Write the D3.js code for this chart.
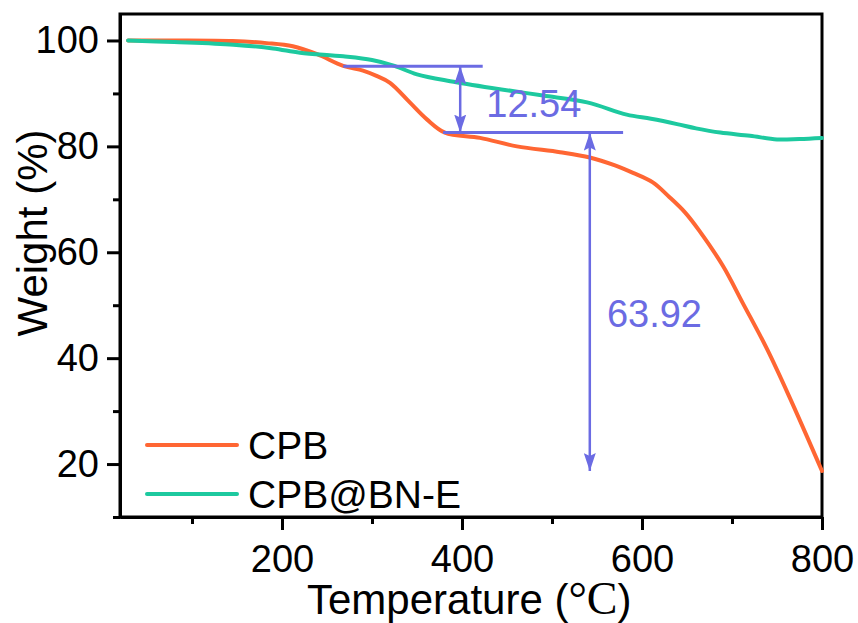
<!DOCTYPE html>
<html>
<head>
<meta charset="utf-8">
<script src="https://cdn.jsdelivr.net/npm/d3@7"></script>
<style>
  body { margin: 0; background: #fff; }
  svg { display: block; font-family: "Liberation Sans", Arial, sans-serif; }
</style>
</head>
<body>
<svg width="858" height="623"></svg>
<script>
// TGA curves, temperature (°C) vs weight (%)
const cpbTemp = [29, 80, 145, 183, 212, 239, 268, 290, 305, 320, 342, 361, 381, 420, 461, 509, 542, 570, 590, 612, 630, 648, 664, 690, 712, 739, 764, 800]
const cpbWeight = [100, 100, 99.9, 99.5, 98.9, 97.4, 95.2, 94.3, 93.3, 92, 88.3, 85.1, 82.6, 81.6, 80, 78.9, 77.9, 76.4, 75, 73.2, 70.5, 67.5, 64, 57.4, 50.4, 41.7, 32.6, 18.7]
const bnTemp = [29, 80, 146, 190, 220, 268, 300, 325, 350, 387, 442, 490, 539, 583, 610, 639, 660, 687, 720, 750, 775, 800]
const bnWeight = [100, 99.7, 99.2, 98.5, 97.7, 97, 96.3, 95.2, 93.6, 92.3, 90.8, 89.6, 88.3, 86, 85.2, 84.2, 83.4, 82.6, 82, 81.3, 81.4, 81.6]
const seriesNames = ['CPB', 'CPB@BN-E']
const seriesColors = ['#FF6633', '#1DC99F']

const xMajor = [200, 400, 600, 800]
const xMinor = [100, 300, 500, 700]
const yMajor = [20, 40, 60, 80, 100]
const yMinor = [10, 30, 50, 70, 90]

// annotation levels (weight %)
const stepTop = 95.14, stepMid = 82.6, stepEnd = 18.68
const annLabels = ['12.54', '63.92']
const annColor = '#6B6BE3'

const svg = d3.select('svg')
const margin = {top: 14, right: 36, bottom: 106, left: 120}
const width = 858 - margin.left - margin.right
const height = 623 - margin.top - margin.bottom

const x = d3.scaleLinear().domain([20, 800]).range([0, width])
const y = d3.scaleLinear().domain([10, 105]).range([height, 0])

const g = svg.append('g').attr('transform', `translate(${margin.left},${margin.top})`)

// frame
g.append('rect').attr('width', width).attr('height', height)
  .attr('fill', 'none').attr('stroke', '#000').attr('stroke-width', 3)

function styleAxis(sel) {
  sel.select('.domain').attr('stroke-width', 3)
  sel.selectAll('.tick line').attr('stroke-width', 3)
  sel.selectAll('.tick text').attr('font-size', 38).attr('fill', '#000')
    .attr('font-family', '"Liberation Sans", Arial, sans-serif')
}

g.append('g').attr('transform', `translate(0,${height})`)
  .call(d3.axisBottom(x).tickValues(xMinor).tickSize(7).tickFormat('').tickSizeOuter(0))
  .call(styleAxis)
g.append('g').attr('transform', `translate(0,${height})`)
  .call(d3.axisBottom(x).tickValues(xMajor).tickSize(13).tickPadding(15).tickSizeOuter(0))
  .call(styleAxis)
g.append('g')
  .call(d3.axisLeft(y).tickValues(yMinor).tickSize(7).tickFormat('').tickSizeOuter(0))
  .call(styleAxis)
g.append('g')
  .call(d3.axisLeft(y).tickValues(yMajor).tickSize(13).tickPadding(8).tickSizeOuter(0))
  .call(styleAxis)

// axis titles
const xt = svg.append('text')
  .attr('x', 307).attr('y', 614)
  .attr('font-size', 42)
xt.append('tspan').text('Temperature (')
xt.append('tspan').attr('font-family', '"Liberation Serif", "Times New Roman", serif')
  .attr('font-size', 46).text('°C')
xt.append('tspan').text(')')

svg.append('text')
  .attr('transform', 'translate(47,233) rotate(-90)')
  .attr('text-anchor', 'middle')
  .attr('font-size', 42)
  .text('Weight (%)')

// curves
const line = d3.line().x(d => x(d[0])).y(d => y(d[1])).curve(d3.curveCatmullRom.alpha(0.5))
const series = [
  d3.zip(cpbTemp, cpbWeight),
  d3.zip(bnTemp, bnWeight)
]
g.selectAll('.curve').data(series).join('path')
  .attr('class', 'curve')
  .attr('d', line)
  .attr('fill', 'none')
  .attr('stroke', (d, i) => seriesColors[i])
  .attr('stroke-width', 4)
  .attr('stroke-linejoin', 'round')
  .attr('stroke-linecap', 'round')

// annotations
svg.append('defs').append('marker')
  .attr('id', 'head')
  .attr('viewBox', '0 0 18 12')
  .attr('refX', 18).attr('refY', 6)
  .attr('markerWidth', 18).attr('markerHeight', 12)
  .attr('markerUnits', 'userSpaceOnUse')
  .attr('orient', 'auto-start-reverse')
  .append('path').attr('d', 'M0,0 L18,6 L0,12 L3,6 Z')
  .attr('fill', annColor)

const hlines = [
  [268, 423, stepTop],
  [379, 579, stepMid]
]
g.selectAll('.hline').data(hlines).join('line')
  .attr('x1', d => x(d[0])).attr('x2', d => x(d[1]))
  .attr('y1', d => y(d[2])).attr('y2', d => y(d[2]))
  .attr('stroke', annColor).attr('stroke-width', 3)

const arrows = [
  [398, stepTop, stepMid],
  [542, stepMid, stepEnd]
]
g.selectAll('.arrow').data(arrows).join('line')
  .attr('x1', d => x(d[0])).attr('x2', d => x(d[0]))
  .attr('y1', d => y(d[1])).attr('y2', d => y(d[2]))
  .attr('stroke', annColor).attr('stroke-width', 2.5)
  .attr('marker-start', 'url(#head)')
  .attr('marker-end', 'url(#head)')

const annPos = [[427, 85.5], [561, 45.9]]
g.selectAll('.ann').data(annLabels).join('text')
  .attr('x', (d, i) => x(annPos[i][0])).attr('y', (d, i) => y(annPos[i][1]))
  .attr('font-size', 38).attr('fill', annColor)
  .text(d => d)

// legend
const leg = svg.append('g')
seriesNames.forEach((name, i) => {
  const yy = 445 + i * 49
  leg.append('line').attr('x1', 147).attr('x2', 237).attr('y1', yy).attr('y2', yy)
    .attr('stroke', seriesColors[i]).attr('stroke-width', 4).attr('stroke-linecap', 'round')
  leg.append('text').attr('x', 248).attr('y', yy + 14)
    .attr('font-size', 39).text(name)
})
</script>
</body>
</html>
